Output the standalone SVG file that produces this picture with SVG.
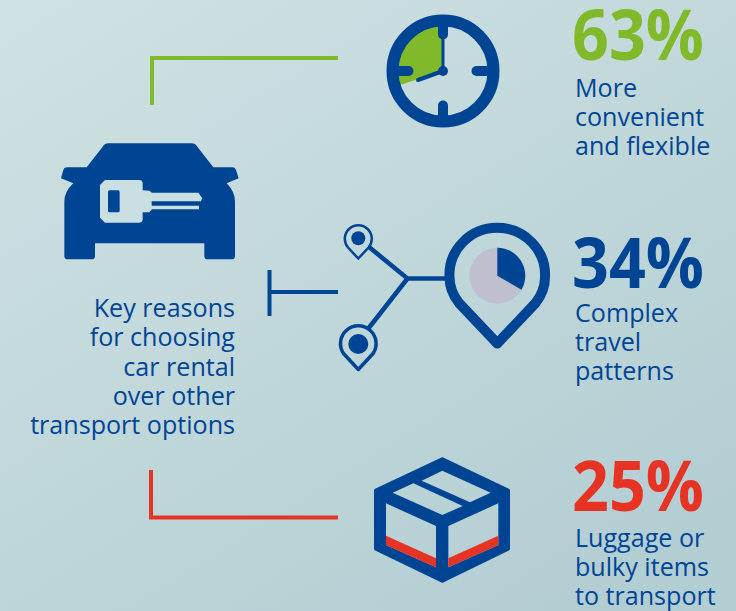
<svg xmlns="http://www.w3.org/2000/svg" width="736" height="611" viewBox="0 0 736 611">
<style>
.l{font-family:"Open Sans","Liberation Sans",sans-serif;font-size:25.100px;fill:#004494}
.n{font-family:"Open Sans","Liberation Sans",sans-serif;font-size:70px;font-weight:700}
.d{fill:#004494}
.s{fill:none;stroke:#004494}
</style>
<defs><linearGradient id="bg" x1="0" y1="0" x2="0.75" y2="1"><stop offset="0" stop-color="#d0e2e3"/><stop offset="1" stop-color="#b3ced3"/></linearGradient></defs>
<rect width="736" height="611" fill="url(#bg)"/>
<g id="connectors" fill="none" stroke-width="4">
<path d="M152 105V58H338" stroke="#80ba2a"/>
<path d="M269.500 270V316M269.500 292H338" stroke="#004494"/>
<path d="M151 470V517.500H338" stroke="#e63323"/>
</g>
<g id="clock">
<path d="M443 71L443 26A45 45 0 0 0 400 85Z" fill="#80ba2a"/>
<circle cx="443" cy="71" r="50.500" class="s" stroke-width="12"/>
<path class="s" stroke-width="10" stroke-linecap="round" d="M443 24V34.500M443 118V105.500M396 71H408.500M490 71H476.500"/>
<path class="s" stroke-width="3" d="M443 36V71"/>
<path class="s" stroke-width="4" stroke-linecap="round" d="M443 71L418 80"/>
<circle cx="443" cy="71" r="5" class="d"/>
</g>
<g id="stat-63">
<text class="n" x="572" y="59.500" fill="#80ba2a" textLength="132" lengthAdjust="spacingAndGlyphs">63%</text>
<text class="l" x="575" y="97">More</text>
<text class="l" x="575" y="126">convenient</text>
<text class="l" x="575" y="155">and flexible</text>
</g>
<g id="car">
<g transform="translate(50 130) scale(.33333)">
<path class="d" d="M175 40H425Q435 40 442 50L490 112H548Q556 112 558 120L566 145L530 160Q555 185 555 215V378Q555 388 545 388H473Q463 388 463 378V340H135V378Q135 388 125 388H53Q43 388 43 378V215Q43 185 70 160L33 145L40 120Q42 112 50 112H110L158 50Q165 40 175 40Z"/>
<path fill="#c9dfe2" d="M165 150H268Q278 150 278 160V181L298 182L306 188H445L457 205L447 225V238H306L298 247H278V268Q278 278 268 278H165L150 263V165Z"/>
<rect x="174" y="181" width="35" height="66" rx="5" class="d"/>
<path class="d" d="M305 214H452V227H305Z"/>
</g>
</g>
<g id="reason-label" text-anchor="end">
<text class="l" x="235" y="317">Key reasons</text>
<text class="l" x="235" y="346.300">for choosing</text>
<text class="l" x="235" y="375.500">car rental</text>
<text class="l" x="235" y="404.800">over other</text>
<text class="l" x="235" y="434">transport options</text>
</g>
<g id="pins">
<path class="s" stroke-width="4.500" d="M369 247L407.500 278.500L368 329M407.500 278.500H447"/>
<path class="s" stroke-width="2.500" d="M358.300 258.500L348 247.500A13.500 13.500 0 1 1 368.600 247.500Z"/>
<circle cx="358.300" cy="238.300" r="7" class="d"/>
<path class="s" stroke-width="3.500" stroke-linejoin="round" d="M358.300 369.500L343.500 353.500A17.800 17.800 0 1 1 373.100 353.500Z"/>
<circle cx="358.300" cy="344" r="10" class="d"/>
<path class="s" stroke-width="10" stroke-linejoin="round" d="M497.300 343.500L459 303Q449.500 291 449.500 277A47.800 47 0 1 1 545 277Q545 291 535.600 303Z"/>
<circle cx="497.300" cy="275.700" r="28" fill="#bfbfd0"/>
<path class="d" d="M497.300 275.700V247.700A28 28 0 0 1 521.500 289.700Z"/>
</g>
<g id="stat-34">
<text class="n" x="572" y="287.500" fill="#004494" textLength="132" lengthAdjust="spacingAndGlyphs">34%</text>
<text class="l" x="575" y="322">Complex</text>
<text class="l" x="575" y="351">travel</text>
<text class="l" x="575" y="380">patterns</text>
</g>
<g id="box">
<g transform="translate(360 450) scale(.33333)">
<path class="d" fill-rule="evenodd" d="M247 28L444 122V296L247 392L48 296V122ZM247 62L185 92L330 157L392 128ZM160 100L98 128L247 195L308 168ZM78 160V285L228 352V228ZM415 160L265 228V352L415 285Z"/>
<path class="s" stroke-width="12" stroke-linejoin="round" d="M247 28L444 122V296L247 392L48 296V122Z"/>
<path fill="#e63323" d="M78 257L228 325V352L78 285ZM265 325L415 257V285L265 352Z"/>
</g>
</g>
<g id="stat-25">
<text class="n" x="572" y="510.500" fill="#e63323" textLength="132" lengthAdjust="spacingAndGlyphs">25%</text>
<text class="l" x="575" y="547">Luggage or</text>
<text class="l" x="575" y="576">bulky items</text>
<text class="l" x="575" y="605">to transport</text>
</g>
</svg>
